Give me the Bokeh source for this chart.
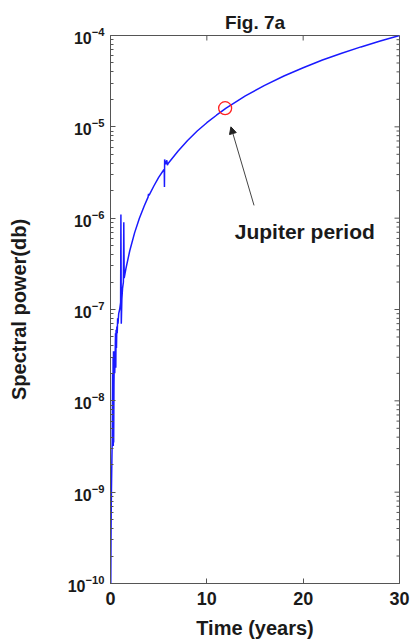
import numpy as np
from bokeh.plotting import figure
from bokeh.models import (FixedTicker, Arrow, NormalHead, Range1d, ColumnDataSource,
                          LogTickFormatter)
from bokeh.embed import file_html
from bokeh.resources import INLINE
from bokeh.core.properties import value

# ---- data ----
t_years = [0.02, 0.03, 0.05, 0.08, 0.10, 0.15, 0.18, 0.22, 0.24, 0.27, 0.29, 0.31,
           0.33, 0.36, 0.40, 0.44, 0.48, 0.52, 0.55, 0.58, 0.62, 0.66, 0.70, 0.74,
           0.78, 0.85, 0.95, 1.05, 1.08, 1.12, 1.18, 1.25, 1.34, 1.38, 1.42, 1.6,
           2.0, 2.5, 3.0, 3.5, 3.9, 3.95, 4.0, 4.5, 5.0, 5.5, 5.58, 5.6, 5.62, 5.7,
           5.85, 5.9, 6.0, 7.0, 8.0, 9.0, 10.0, 11.0, 12.0, 14.0, 16.0, 18.0, 20.0,
           22.0, 24.0, 26.0, 28.0, 30.0]
power = [5.0e-11, 1.0e-10, 2.8e-10, 7.1e-10, 1.1e-9, 2.5e-9, 3.6e-9, 2.0e-8, 4.0e-9,
         3.0e-8, 3.2e-9, 3.5e-8, 3.5e-9, 1.5e-8, 3.5e-8, 2.0e-8, 3.0e-8, 5.5e-8,
         2.3e-8, 6.0e-8, 3.8e-8, 6.5e-8, 5.5e-8, 8.0e-8, 7.0e-8, 9.0e-8, 1.0e-7,
         1.2e-7, 1.1e-6, 7.0e-8, 1.3e-7, 1.7e-7, 2.0e-7, 9.0e-7, 2.2e-7, 2.8e-7,
         4.4e-7, 6.9e-7, 1.0e-6, 1.36e-6, 1.7e-6, 1.85e-6, 1.78e-6, 2.25e-6, 2.8e-6,
         3.35e-6, 3.4e-6, 2.2e-6, 4.4e-6, 3.9e-6, 4.3e-6, 3.8e-6, 4.0e-6, 5.4e-6,
         7.1e-6, 9.0e-6, 1.11e-5, 1.34e-5, 1.6e-5, 2.18e-5, 2.84e-5, 3.6e-5, 4.44e-5,
         5.4e-5, 6.4e-5, 7.5e-5, 8.7e-5, 1.0e-4]

jupiter_t = [11.9]
jupiter_p = [1.6e-5]
note_text = ["Jupiter period"]
note_t = [12.9]
note_p = [7.2e-7]
arrow_from = (14.9, 1.38e-6)
arrow_to = (12.5, 1.0e-5)

x_ticks = [0, 10, 20, 30]
y_ticks = [1e-10, 1e-9, 1e-8, 1e-7, 1e-6, 1e-5, 1e-4]

FONT = "Liberation Sans"
AX = "#555555"
TXT = "#1a1a1a"

p = figure(width=412, height=642, x_range=Range1d(0, 30), y_range=Range1d(1e-10, 1e-4),
           y_axis_type="log", output_backend="svg", toolbar_location=None,
           min_border_left=110, min_border_right=13, min_border_top=35,
           min_border_bottom=59, title="Fig. 7a")
p.grid.visible = False
p.outline_line_color = AX
p.background_fill_color = "white"
p.border_fill_color = "white"

p.title.align = "center"
p.title.text_font = FONT
p.title.text_font_size = "19px"
p.title.text_font_style = "bold"
p.title.text_color = TXT
p.title.standoff = 6

minor = [m * d for d in y_ticks[:-1] for m in range(2, 10)]

xa = p.xaxis[0]
xa.ticker = FixedTicker(ticks=x_ticks)
xa.axis_label = "Time (years)"
ya = p.yaxis[0]
ya.ticker = FixedTicker(ticks=y_ticks, minor_ticks=minor)
ya.formatter = LogTickFormatter()
ya.axis_label = "Spectral power(db)"

for ax in (xa, ya):
    ax.axis_line_color = AX
    ax.major_tick_line_color = AX
    ax.minor_tick_line_color = AX
    ax.major_tick_in = 5
    ax.major_tick_out = 0
    ax.minor_tick_in = 3
    ax.minor_tick_out = 0
    ax.major_label_text_font = FONT
    ax.major_label_text_font_style = "bold"
    ax.major_label_text_color = TXT
    ax.axis_label_text_font = FONT
    ax.axis_label_text_font_style = "bold"
    ax.axis_label_text_color = TXT
    ax.axis_label_text_font_size = "20px"
xa.minor_tick_line_color = None
xa.major_label_text_font_size = "18px"
xa.major_label_standoff = 8
xa.axis_label_standoff = 9
ya.major_label_text_font_size = "16px"
ya.major_label_standoff = 6
ya.axis_label_standoff = 35

# box ticks on the top and right edges (MATLAB style)
p.ray(x=x_ticks, y=[1e-4] * len(x_ticks), length=5, length_units="screen",
      angle=-np.pi / 2, line_color=AX, line_width=1)
p.ray(x=[30] * len(y_ticks), y=y_ticks, length=5, length_units="screen",
      angle=np.pi, line_color=AX, line_width=1)
p.ray(x=[30] * len(minor), y=minor, length=3, length_units="screen",
      angle=np.pi, line_color=AX, line_width=1)

src = ColumnDataSource(dict(t=t_years, p=power))
p.line("t", "p", source=src, line_color="#1a1aff", line_width=1.5)

p.scatter(jupiter_t, jupiter_p, marker="circle", size=13, fill_color=None,
          line_color="#ff2020", line_width=1.3)

p.add_layout(Arrow(end=NormalHead(size=7, fill_color="#222222", line_color="#222222"),
                   x_start=arrow_from[0], y_start=arrow_from[1],
                   x_end=arrow_to[0], y_end=arrow_to[1],
                   line_color="#444444", line_width=1))

p.text(note_t, note_p, text=note_text, text_font=value(FONT), text_font_style="bold",
       text_font_size="21px", text_baseline="middle", text_align="left",
       text_color=TXT)

open("out.html", "w").write(file_html(p, INLINE))
